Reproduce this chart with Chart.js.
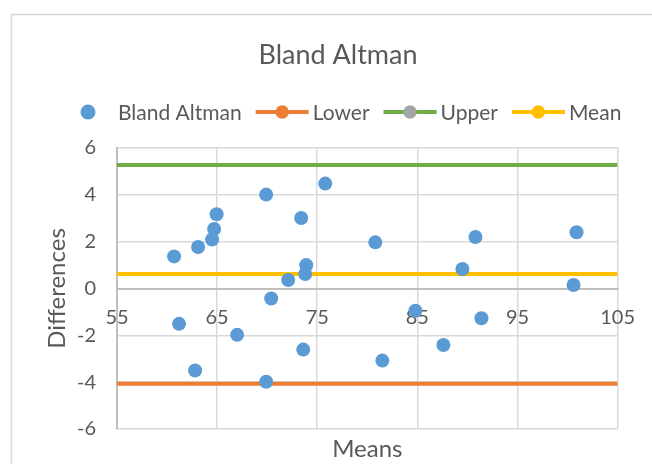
<!DOCTYPE html>
<html>
<head>
<meta charset="utf-8">
<script src="https://cdn.jsdelivr.net/npm/chart.js@4.4.1/dist/chart.umd.min.js"></script>
<style>
  html, body { margin: 0; padding: 0; background: #fff; }
  #wrap { width: 652px; height: 464px; }
</style>
</head>
<body>
<div id="wrap"><canvas id="chart" width="652" height="464"></canvas></div>
<script>
/* =========================================================
   DATA
========================================================= */
const titleText = "Bland Altman";
const means = [60.7, 63.1, 64.5, 64.7, 64.95, 69.9, 73.4, 75.8, 73.9, 73.8, 72.1, 70.4, 80.8,
               90.8, 89.5, 100.9, 100.6, 84.8, 61.2, 67.0, 62.8, 69.9, 73.6, 81.5, 87.6, 91.4];
const differences = [1.37, 1.77, 2.09, 2.54, 3.17, 4.01, 3.01, 4.48, 1.0, 0.62, 0.36, -0.43, 1.97,
                     2.2, 0.83, 2.4, 0.15, -0.95, -1.51, -1.98, -3.5, -3.98, -2.61, -3.08, -2.41, -1.27];
const limitX = [55, 105];
const lowerY = [-4.07, -4.07];
const upperY = [5.27, 5.27];
const meanY = [0.62, 0.62];
const xTicks = [55, 65, 75, 85, 95, 105];
const yTicks = [-6, -4, -2, 0, 2, 4, 6];

/* =========================================================
   HELPERS
========================================================= */
const FONT = "Lato, 'Open Sans', sans-serif";
const TEXT = "#595959";

function pairs(xs, ys) {
  return xs.map((x, i) => ({ x: x, y: ys[i] }));
}

/* frame, title and legend drawn like the Excel chart */
const excelDecor = {
  id: "excelDecor",
  beforeDraw(chart) {
    const ctx = chart.ctx;
    ctx.save();
    ctx.fillStyle = "#fff";
    ctx.fillRect(0, 0, chart.width, chart.height);
    ctx.strokeStyle = "#d9d9d9";
    ctx.lineWidth = 1.5;
    ctx.strokeRect(11.5, 14.5, 800, 600);
    ctx.restore();
  },
  afterDraw(chart) {
    const ctx = chart.ctx;
    ctx.save();
    ctx.fillStyle = TEXT;
    ctx.textAlign = "center";
    ctx.textBaseline = "middle";
    ctx.font = "27px " + FONT;
    ctx.fillText(titleText, 338, 55);

    // legend
    ctx.font = "21px " + FONT;
    ctx.textAlign = "left";
    let x = 80.5;
    const y = 112;
    chart.data.datasets.forEach(ds => {
      if (ds.showLine) {
        ctx.strokeStyle = ds.borderColor;
        ctx.lineWidth = 4;
        ctx.beginPath();
        ctx.moveTo(x, y);
        ctx.lineTo(x + 53, y);
        ctx.stroke();
        ctx.fillStyle = ds.legendDot;
        ctx.beginPath();
        ctx.arc(x + 26.5, y, 6.7, 0, Math.PI * 2);
        ctx.fill();
        x += 57;
      } else {
        ctx.fillStyle = ds.backgroundColor;
        ctx.beginPath();
        ctx.arc(x + 7.5, y, 7.5, 0, Math.PI * 2);
        ctx.fill();
        x += 37.5;
      }
      ctx.fillStyle = TEXT;
      ctx.fillText(ds.label, x, y + 1);
      x += ctx.measureText(ds.label).width + 14;
    });
    ctx.restore();
  }
};

/* =========================================================
   CHART
========================================================= */
new Chart(document.getElementById("chart"), {
  type: "scatter",
  data: {
    datasets: [
      {
        label: "Bland Altman",
        data: pairs(means, differences),
        backgroundColor: "#5b9bd5",
        borderWidth: 0,
        pointRadius: 7,
        showLine: false
      },
      {
        label: "Lower",
        data: pairs(limitX, lowerY),
        borderColor: "#ed7d31",
        legendDot: "#ed7d31",
        borderWidth: 4,
        pointRadius: 0,
        showLine: true
      },
      {
        label: "Upper",
        data: pairs(limitX, upperY),
        borderColor: "#70ad47",
        legendDot: "#a5a5a5",
        borderWidth: 4,
        pointRadius: 0,
        showLine: true
      },
      {
        label: "Mean",
        data: pairs(limitX, meanY),
        borderColor: "#ffc000",
        legendDot: "#ffc000",
        borderWidth: 4,
        pointRadius: 0,
        showLine: true
      }
    ]
  },
  options: {
    responsive: false,
    animation: false,
    layout: { padding: { top: 148, right: 34, left: 0, bottom: 0 } },
    plugins: {
      legend: { display: false },
      title: { display: false },
      tooltip: { enabled: false }
    },
    scales: {
      x: {
        type: "linear",
        position: { y: 0 },
        min: xTicks[0],
        max: xTicks[xTicks.length - 1],
        afterBuildTicks: scale => { scale.ticks = xTicks.map(v => ({ value: v })); },
        grid: { color: "#d9d9d9", lineWidth: 1.5, drawTicks: false },
        border: { color: "#bfbfbf", width: 2 },
        ticks: {
          color: TEXT,
          font: { family: FONT, size: 20 },
          padding: 17,
          maxRotation: 0
        }
      },
      x2: {
        type: "linear",
        position: "bottom",
        min: xTicks[0],
        max: xTicks[xTicks.length - 1],
        afterFit: scale => { scale.height = 35; },
        grid: { display: false },
        border: { display: false },
        ticks: { display: false },
        title: {
          display: true,
          text: "Means",
          color: TEXT,
          font: { family: FONT, size: 24 },
          padding: { top: 1, bottom: 0 }
        }
      },
      y: {
        type: "linear",
        min: yTicks[0],
        max: yTicks[yTicks.length - 1],
        afterBuildTicks: scale => { scale.ticks = yTicks.map(v => ({ value: v })); },
        afterFit: scale => { scale.width = 117; },
        grid: { color: "#d9d9d9", lineWidth: 1.5, drawTicks: false },
        border: { color: "#bfbfbf", width: 2 },
        ticks: {
          color: TEXT,
          font: { family: FONT, size: 20 },
          padding: 21
        },
        title: {
          display: true,
          text: "Differences",
          color: TEXT,
          font: { family: FONT, size: 24 },
          padding: { top: 43, bottom: 0 }
        }
      }
    }
  },
  plugins: [excelDecor]
});
</script>
</body>
</html>
